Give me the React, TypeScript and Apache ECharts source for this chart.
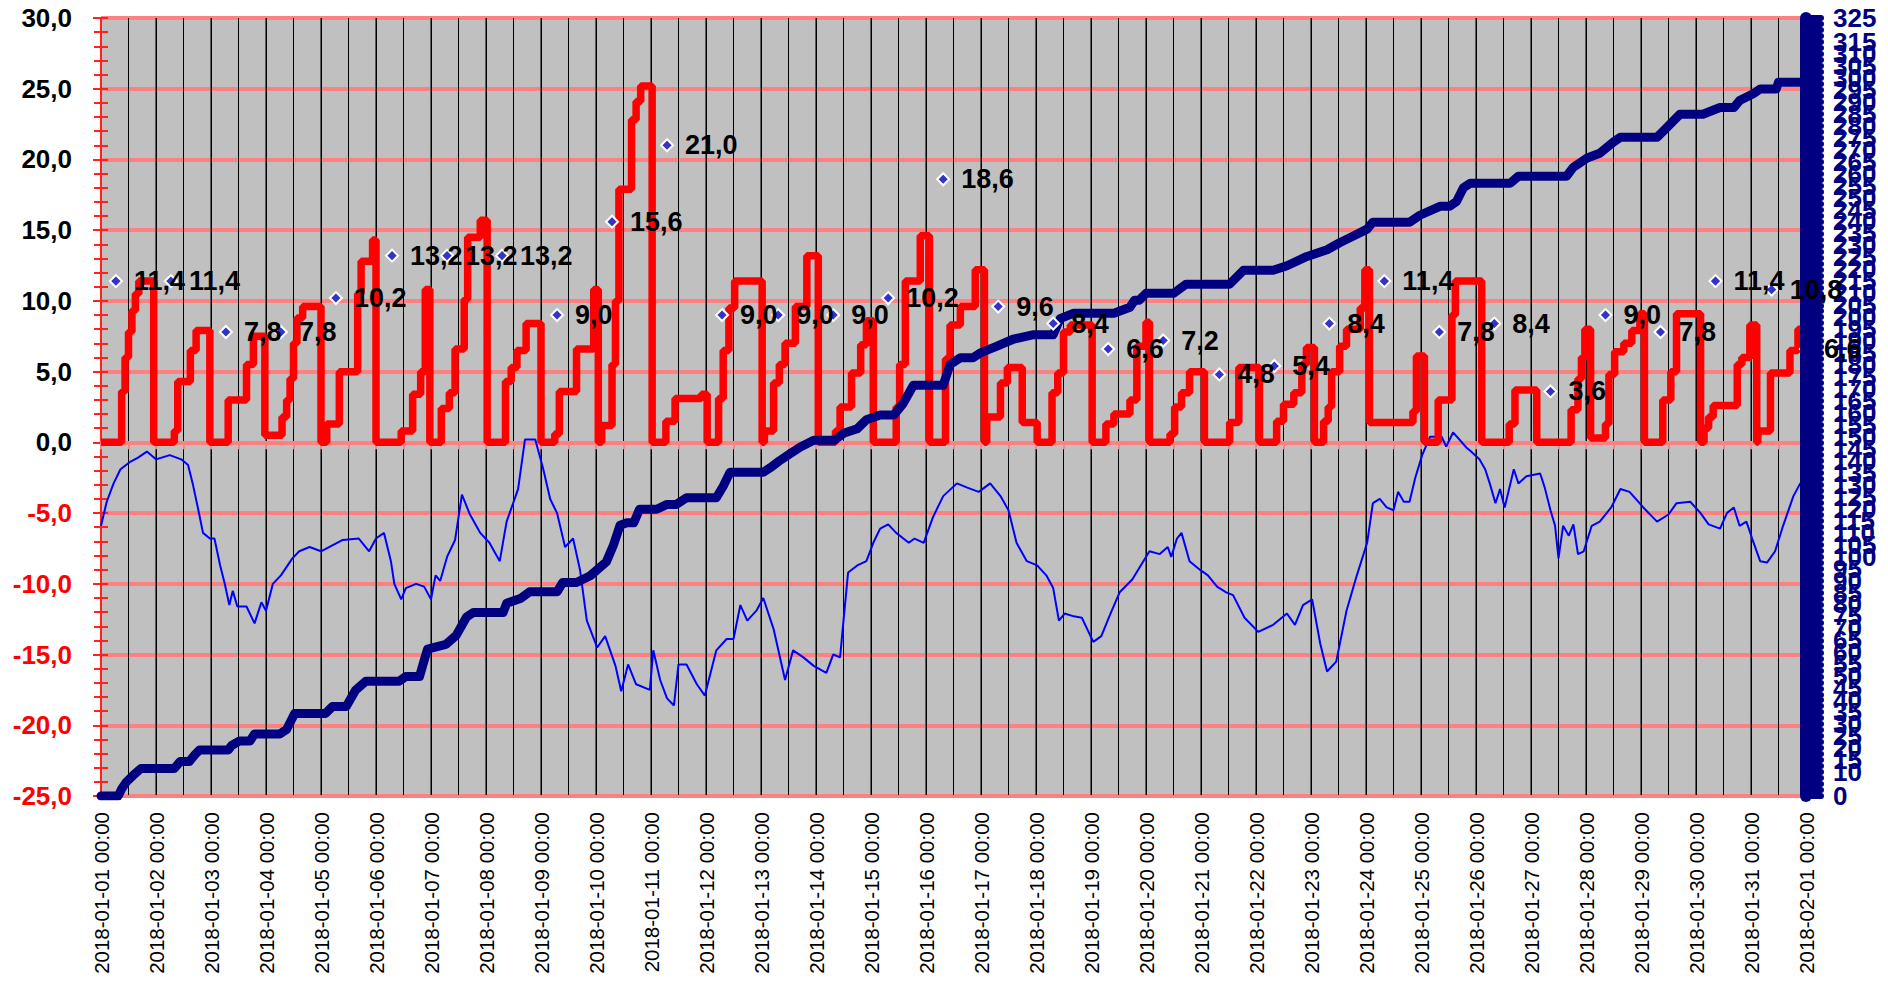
import React, { useEffect, useRef } from "react";
import * as echarts from "echarts";

// x values are hours counted from 2018-01-01 00:00
const START_UTC = Date.UTC(2018, 0, 1);
const X_MAX_HOURS = 744;

const leftAxisMin = -25;
const leftAxisMax = 30;
const rightAxisMin = 0;
const rightAxisMax = 325;

// red stepped series: [hour, value] — value holds until the next point
const redSteps: [number, number][] = [
  [0, 0], [9, 3.6], [10.5, 6.0], [12, 7.8], [13.5, 9.3], [15, 10.5], [16.5, 11.4], [23, 0],
  [32, 0.8], [33.5, 4.3], [39, 6.5], [41.5, 7.9], [47.5, 0],
  [55.5, 3.0], [63.5, 5.5], [66.5, 7.5], [71.5, 0.5],
  [79, 1.8], [81, 3.0], [82.5, 4.5], [84, 7.0], [85.5, 8.8], [88, 9.6], [96, 0],
  [98.5, 1.3], [104, 5.0], [112, 10.5], [113.5, 12.8], [118.5, 14.3], [120, 0],
  [131, 0.8], [136, 3.4], [139.5, 5.0], [141.5, 10.8], [143.5, 0],
  [148.5, 2.4], [152, 3.5], [154.5, 6.6], [158.5, 10.1], [160, 14.5], [165.5, 15.7], [168.5, 0],
  [176.5, 4.3], [179, 5.3], [181.5, 6.5], [185.5, 8.4], [192, 0],
  [198, 0.6], [200, 3.6], [207.5, 6.6], [215, 10.8], [217, 0], [218.5, 1.2], [223, 5.5], [224.5, 10.0],
  [226, 17.9], [231.5, 22.8], [233.5, 24.1], [235.5, 25.2], [240.5, 0],
  [246.5, 1.5], [250.5, 3.1], [262, 3.4], [264.5, 0],
  [269.5, 3.1], [271.5, 6.5], [274, 9.5], [276.5, 11.4], [288.5, 0],
  [289.5, 0.8], [293.5, 4.2], [296, 5.5], [298.5, 7.0], [303, 9.6], [308, 13.2], [313, 0],
  [320.5, 0.8], [322.5, 2.5], [327.5, 4.9], [331.5, 6.9], [334, 8.6], [337, 0],
  [347, 2.5], [348.5, 5.5], [351, 11.4], [357.5, 14.6], [361.5, 0],
  [368.5, 5.9], [370.5, 8.3], [375, 9.6], [381.5, 12.2], [385.5, 0],
  [386.5, 1.8], [392.5, 4.2], [395.5, 5.3], [402, 1.4], [408.5, 0],
  [415, 3.5], [417.5, 4.9], [420, 7.8], [423, 8.3], [432.5, 0],
  [438.5, 1.3], [442, 2.0], [449, 3.0], [452, 6.8], [456, 8.5], [457.5, 0],
  [466.5, 0.6], [468.5, 2.5], [471.5, 3.5], [475, 5.0], [481.5, 0],
  [492.5, 1.4], [496.5, 5.3], [505.5, 0],
  [513, 1.5], [516, 2.7], [520.5, 3.5], [524, 5.5], [526, 6.7], [529.5, 0],
  [533.5, 1.5], [535.5, 2.5], [537, 5.0], [540.5, 6.8], [543.5, 8.0], [549.5, 9.5], [551.5, 12.2], [553.5, 1.4],
  [572.5, 2.2], [574, 6.1], [577.5, 0],
  [583.5, 3.0], [589.5, 9.0], [591, 11.4], [602.5, 0],
  [614.5, 1.3], [617, 3.7], [626.5, 0],
  [641.5, 2.3], [644.5, 4.5], [646, 6.0], [647.5, 8.0], [650, 0.3],
  [656.5, 1.3], [658, 4.8], [660.5, 6.4], [664.5, 7.0], [668, 7.9], [671.5, 9.1], [673.5, 0],
  [681.5, 3.0], [685, 5.0], [687.5, 9.1], [698, 0],
  [699.5, 1.0], [701.5, 1.8], [703.5, 2.6], [714, 5.5], [716, 6.0], [719.5, 8.3], [722.5, 0],
  [723, 0.8], [728.5, 4.9], [737, 6.5], [740.5, 8.0], [743, 9.3], [744, 9.3],
];

// thin blue series (left axis): [hour, value]
const tempLine: [number, number][] = [
  [0, -5.9], [2.5, -4.2], [5.5, -2.9], [8.5, -1.9], [12.5, -1.4], [16, -1.1], [20, -0.65], [24, -1.2],
  [30, -0.9], [35, -1.2], [38, -1.6], [40, -2.9], [42.5, -4.8], [44.5, -6.4], [47.5, -6.8], [49.5, -6.8],
  [52, -8.7], [54, -10.0], [56, -11.5], [57.5, -10.5], [59.5, -11.6], [63.5, -11.6], [67, -12.8], [70, -11.3],
  [72, -11.9], [75, -10.0], [78.5, -9.4], [83.5, -8.2], [86.5, -7.7], [91, -7.4], [96, -7.7], [99.5, -7.4],
  [105.5, -6.9], [112.5, -6.8], [117, -7.7], [120, -6.8], [123.5, -6.4], [126.5, -8.4], [128, -10.0],
  [131, -11.1], [133, -10.3], [137.5, -10.0], [141, -10.2], [144, -11.1], [146, -9.4], [148, -9.8],
  [151, -8.1], [154.5, -6.9], [157.5, -3.7], [161, -5.1], [165.5, -6.4], [169.5, -7.1], [174, -8.4],
  [177, -5.6], [182, -3.3], [185, 0.2], [189.5, 0.2], [193, -1.9], [196, -4.0], [199, -5.0], [202.5, -7.4],
  [206, -6.8], [209, -9.0], [212, -12.6], [216.5, -14.5], [220, -13.7], [224.5, -15.8], [227, -17.6],
  [230, -15.7], [233.5, -17.1], [239.5, -17.5], [241, -14.7], [244, -16.8], [247, -18.1], [250, -18.6],
  [252, -15.7], [255.5, -15.7], [260, -17.1], [263.5, -17.9], [268.5, -14.7], [273, -13.9], [276, -13.9],
  [279, -11.5], [282, -12.6], [286, -11.9], [289, -11.0], [293.5, -13.2], [298.5, -16.8], [302, -14.7],
  [306.5, -15.2], [311, -15.8], [316.5, -16.3], [319.5, -15.0], [322.5, -15.2], [324, -12.6], [326, -9.2],
  [330, -8.7], [334, -8.4], [337, -7.1], [340, -6.1], [343.5, -5.8], [347, -6.4], [352.5, -7.1], [355, -6.8],
  [359, -7.1], [363, -5.3], [367.5, -3.8], [373.5, -2.9], [378, -3.2], [383, -3.5], [388, -2.9], [392.5, -3.8],
  [396, -4.8], [399.5, -7.1], [404, -8.4], [408.5, -8.7], [412.5, -9.4], [415.5, -10.3], [418, -12.6],
  [420.5, -12.1], [424.5, -12.3], [428, -12.4], [433, -14.1], [436.5, -13.7], [440.5, -12.1], [444.5, -10.6],
  [450, -9.7], [457.5, -7.7], [462, -7.9], [465.5, -7.4], [467, -8.1], [469.5, -6.8], [471.5, -6.4],
  [475, -8.4], [479.5, -9.0], [483, -9.4], [487, -10.2], [491, -10.6], [494, -10.8], [499, -12.4],
  [505, -13.4], [511.5, -12.9], [517.5, -12.1], [521, -12.9], [524.5, -11.5], [528.5, -11.1], [532, -14.2],
  [535, -16.2], [539, -15.5], [543.5, -11.9], [548, -9.4], [552.5, -7.1], [555, -4.3], [558, -4.0],
  [561, -4.6], [564, -4.8], [566, -3.5], [568.5, -4.2], [571, -4.2], [573.5, -2.5], [576.5, -0.9],
  [580, 0.4], [585, 0.4], [587, -0.3], [590, 0.7], [596, -0.4], [597.5, -0.6], [601.5, -1.2], [604, -1.9],
  [606, -2.9], [608.5, -4.3], [610.5, -3.3], [612.5, -4.6], [616.5, -1.9], [618.5, -2.9], [622, -2.4],
  [628, -2.2], [630, -3.2], [632.5, -4.8], [634.5, -5.9], [636, -8.2], [638, -5.9], [640.5, -6.6],
  [642.5, -5.8], [644.5, -7.9], [647, -7.7], [650.5, -5.9], [654, -5.6], [659, -4.6], [663, -3.3],
  [667, -3.5], [673, -4.6], [679, -5.6], [684, -5.1], [687.5, -4.3], [693.5, -4.2], [698, -5.0],
  [701.5, -5.8], [706.5, -6.1], [709.5, -5.0], [712.5, -4.6], [715, -5.9], [718, -5.6], [720.5, -6.8],
  [724, -8.4], [727, -8.5], [730.5, -7.7], [734, -5.9], [738.5, -3.8], [741.5, -2.9], [743, -2.8],
];

// thick navy cumulative series (right axis): [hour, value]
const cumLine: [number, number][] = [
  [0, 0], [7.5, 0], [9, 2.9], [11, 5.8], [14, 8.6], [17.5, 11.5], [32, 11.5], [34.5, 14.4], [38.5, 14.4],
  [41, 17.3], [43, 19.2], [55.5, 19.2], [57, 21.1], [60.5, 23], [65, 23], [67, 25.9], [78, 25.9], [81, 27.8],
  [84.5, 34.5], [98, 34.5], [101, 37.4], [107, 37.4], [111, 44.1], [115.5, 47.9], [130, 47.9], [133, 49.9],
  [139, 49.9], [141, 56.6], [142.5, 61.4], [150.5, 63.3], [155, 67.1], [159.5, 74.8], [162.5, 76.7],
  [175.5, 76.7], [177, 80.5], [183, 82.5], [187, 85.3], [199, 85.3], [201.5, 89.2], [207.5, 89.2],
  [213.5, 92], [220.5, 97.8], [223.5, 104.5], [226.5, 113.1], [229.5, 114.1], [232.5, 114.1], [235, 119.8],
  [242.5, 119.8], [247, 121.8], [251, 121.8], [255.5, 124.6], [268.5, 124.6], [271.5, 129.4], [274.5, 135.2],
  [289, 135.2], [292, 137.1], [296, 140], [300.5, 142.9], [305, 145.7], [311, 148.6], [320, 148.6],
  [324, 151.5], [330, 153.4], [334, 157.2], [340, 159.2], [346, 159.2], [350, 163.9], [354.5, 171.6],
  [367.5, 171.6], [370.5, 180.2], [375, 183.1], [380.5, 183.1], [383.5, 185], [391, 187.9], [398, 190.8],
  [407, 192.7], [415.5, 192.7], [418.5, 199.4], [424.5, 201.7], [442, 201.7], [449, 204.2], [451, 207.1],
  [453, 207.1], [456, 210], [468, 210], [473.5, 213.8], [492.5, 213.8], [498.5, 219.6], [511.5, 219.6],
  [517.5, 221.5], [526, 225.3], [535, 228.2], [540.5, 231.1], [546.5, 233.9], [552.5, 236.8], [555, 239.7],
  [571, 239.7], [575.5, 242.6], [584.5, 246.4], [588.5, 246.4], [591.5, 248.3], [594.5, 254.1],
  [597.5, 256], [615, 256], [618.5, 258.9], [639.5, 258.9], [642.5, 262.7], [648.5, 266.5], [654, 268.5],
  [660, 273.2], [663, 275.2], [679, 275.2], [682, 278], [689, 284.8], [699, 284.8], [706.5, 287.6],
  [712.5, 287.6], [715, 290.5], [721, 293.4], [724, 295.3], [731, 295.3], [732, 298.2], [741.5, 298.2],
  [744, 299],
];

// daily markers with value labels
const scatterHours: number[] = [
  6.5, 30.5, 54.5, 78.5, 102.5, 127, 151, 175, 199, 223, 247, 271, 295.5, 319.5, 343.5, 367.5,
  391.5, 415.5, 439.5, 463.5, 488, 512, 536, 560, 584, 608, 632.5, 656.5, 680.5, 704.5, 729, 744,
];
const scatterValues: number[] = [
  11.4, 11.4, 7.8, 7.8, 10.2, 13.2, 13.2, 13.2, 9.0, 15.6, 21.0, 9.0, 9.0, 9.0, 10.2, 18.6,
  9.6, 8.4, 6.6, 7.2, 4.8, 5.4, 8.4, 11.4, 7.8, 8.4, 3.6, 9.0, 7.8, 11.4, 10.8, 6.6,
];

const FONT = "'Liberation Sans', Arial, sans-serif";

const pad = (n: number) => String(n).padStart(2, "0");
const fmtDate = (h: number) => {
  const d = new Date(START_UTC + h * 3600000);
  return `${d.getUTCFullYear()}-${pad(d.getUTCMonth() + 1)}-${pad(d.getUTCDate())} ${pad(d.getUTCHours())}:${pad(d.getUTCMinutes())}`;
};
const comma = (v: number) => Number(v).toFixed(1).replace(".", ",");

export default function App() {
  const ref = useRef<HTMLDivElement>(null);
  useEffect(() => {
    if (!ref.current) return;
    const chart = echarts.init(ref.current, undefined, { renderer: "svg" });
    const redTick = { color: "#ff2020", width: 2 };
    const navyTick = { color: "#000080", width: 6, cap: "round" };
    const scatterData = scatterHours.map((h, i) => [h, scatterValues[i]]);
    chart.setOption({
      animation: false,
      backgroundColor: "#ffffff",
      grid: {
        left: 101,
        right: 82,
        top: 18,
        bottom: 187,
        show: true,
        backgroundColor: "#c0c0c0",
        borderColor: "#ff8080",
        borderWidth: 2,
      },
      xAxis: [
        {
          type: "value",
          min: 0,
          max: X_MAX_HOURS,
          interval: 24,
          position: "bottom",
          axisLine: { show: true, onZero: false, lineStyle: { color: "#ff8080", width: 2 } },
          axisTick: { show: false },
          axisLabel: {
            rotate: 90,
            margin: 16,
            fontSize: 20.5,
            fontFamily: FONT,
            color: "#000",
            showMinLabel: true,
            showMaxLabel: true,
            formatter: (v: number) => fmtDate(v),
          },
          splitLine: { show: true, lineStyle: { color: "#5a5a5a", width: 2 } },
        },
        {
          type: "value",
          min: 0,
          max: X_MAX_HOURS,
          interval: 12,
          position: "top",
          axisLine: {
            show: true,
            onZero: true,
            onZeroAxisIndex: 0,
            lineStyle: { color: "#ff8080", width: 4 },
          },
          axisTick: { show: true, inside: true, length: 7, lineStyle: { color: "#ff8080", width: 2 } },
          axisLabel: { show: false },
          splitLine: { show: true, lineStyle: { color: "#000", width: 1 } },
        },
      ],
      yAxis: [
        {
          type: "value",
          min: leftAxisMin,
          max: leftAxisMax,
          interval: 5,
          position: "left",
          axisLine: { show: true, onZero: false, lineStyle: { color: "#ff2020", width: 2 } },
          axisTick: { show: true, length: 8, lineStyle: redTick },
          minorTick: { show: true, splitNumber: 5, length: 7, lineStyle: redTick },
          axisLabel: {
            margin: 29,
            fontSize: 26,
            fontWeight: "bold",
            fontFamily: FONT,
            showMinLabel: true,
            showMaxLabel: true,
            color: (val: string) => (Number(val) < 0 ? "#ff0000" : "#000000"),
            formatter: (v: number) => comma(v),
          },
          splitLine: { show: true, lineStyle: { color: "#ff8080", width: 4 } },
        },
        {
          type: "value",
          min: rightAxisMin,
          max: rightAxisMax,
          interval: 5,
          position: "right",
          z: 10,
          axisLine: { show: true, onZero: false, lineStyle: { color: "#000080", width: 12 } },
          axisTick: { show: true, length: 15, lineStyle: navyTick },
          minorTick: { show: true, splitNumber: 2, length: 15, lineStyle: navyTick },
          axisLabel: {
            margin: 27,
            fontSize: 26,
            fontWeight: "bold",
            fontFamily: FONT,
            color: "#000080",
            showMinLabel: true,
            showMaxLabel: true,
            hideOverlap: false,
          },
          splitLine: { show: false },
        },
        {
          type: "value",
          min: leftAxisMin,
          max: leftAxisMax,
          interval: 5,
          position: "left",
          axisLine: { show: false, onZero: false },
          axisTick: { show: true, inside: true, length: 7, lineStyle: redTick },
          minorTick: { show: true, splitNumber: 5, length: 7, lineStyle: redTick },
          axisLabel: { show: false },
          splitLine: { show: false },
        },
      ],
      series: [
        {
          type: "line",
          xAxisIndex: 0,
          yAxisIndex: 0,
          data: tempLine,
          showSymbol: false,
          symbol: "none",
          lineStyle: { color: "#0000ff", width: 2 },
          z: 2,
        },
        {
          type: "line",
          xAxisIndex: 0,
          yAxisIndex: 0,
          data: redSteps,
          step: "end",
          showSymbol: false,
          symbol: "none",
          lineStyle: { color: "#ff0000", width: 7.5 },
          z: 3,
        },
        {
          type: "line",
          xAxisIndex: 0,
          yAxisIndex: 1,
          data: cumLine,
          showSymbol: false,
          symbol: "none",
          lineStyle: { color: "#000080", width: 9, cap: "round", join: "round" },
          z: 4,
        },
        {
          type: "scatter",
          xAxisIndex: 0,
          yAxisIndex: 0,
          data: scatterData,
          symbol: "diamond",
          symbolSize: 12,
          itemStyle: { color: "#3333cc", borderColor: "#ffffff", borderWidth: 2, opacity: 1 },
          label: { show: false },
          z: 5,
        },
        {
          type: "scatter",
          xAxisIndex: 0,
          yAxisIndex: 0,
          data: scatterData,
          symbol: "circle",
          symbolSize: 12,
          clip: false,
          itemStyle: { color: "rgba(0,0,0,0)", opacity: 1 },
          label: {
            show: true,
            position: "right",
            distance: 12,
            opacity: 1,
            fontSize: 27,
            fontWeight: "bold",
            fontFamily: FONT,
            color: "#000000",
            formatter: (p: any) => comma(p.value[1]),
          },
          z: 12,
        },
      ],
    });
    return () => chart.dispose();
  }, []);
  return (
    <div
      ref={ref}
      style={{ position: "absolute", left: 0, top: 0, width: 1888, height: 983 }}
    />
  );
}
